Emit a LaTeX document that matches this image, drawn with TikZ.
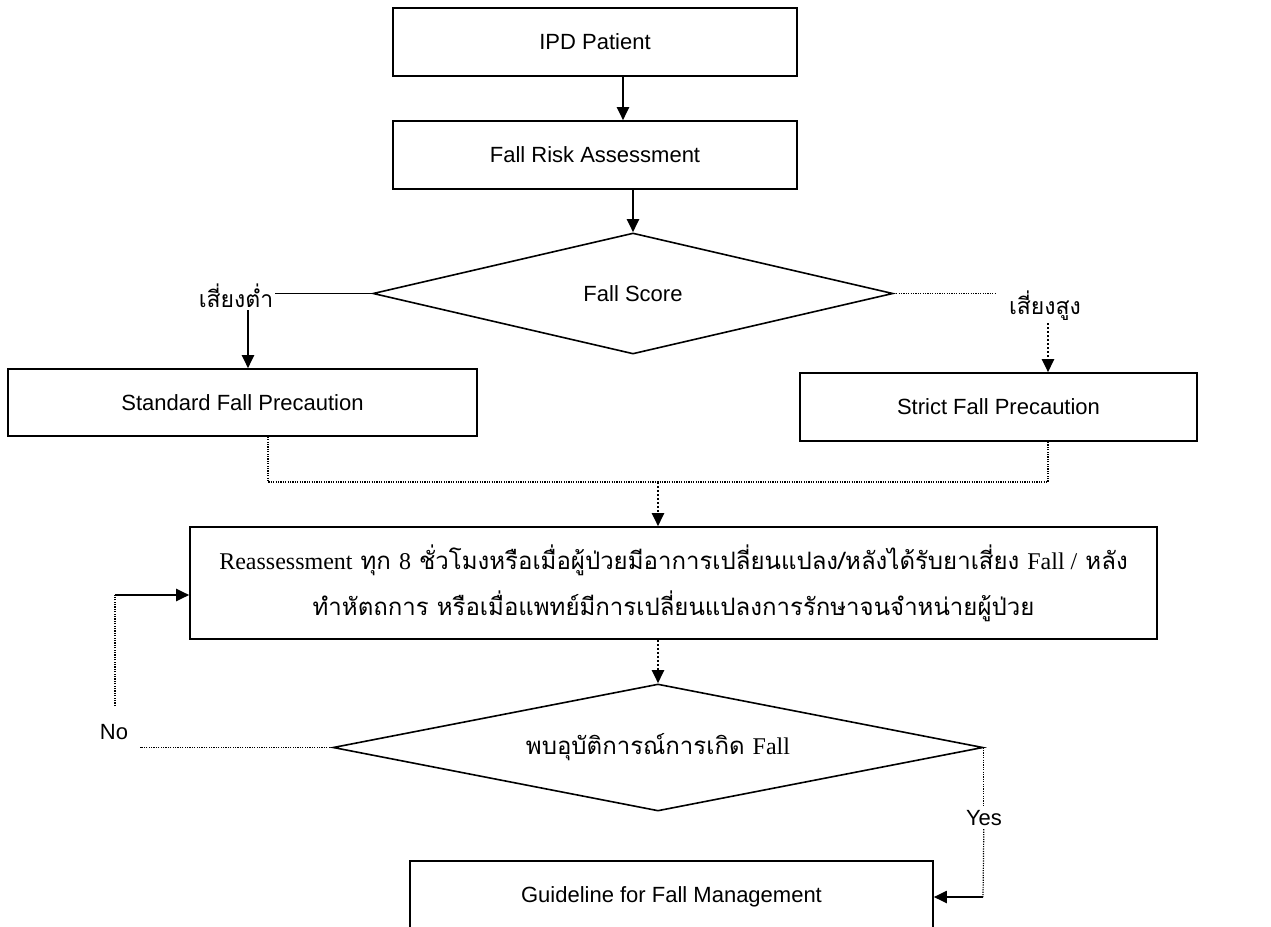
\documentclass[tikz,border=0pt]{standalone}
\usepackage{fontspec}
\setmainfont{Liberation Sans}
\newfontfamily\thaifont[Script=Thai]{Loma}
\newfontfamily\latser{Liberation Serif}
\usetikzlibrary{shapes.geometric, arrows.meta, positioning}

\tikzset{
  %% process box
  pbox/.style={
    rectangle, draw=black, fill=white,
    line width=1.6pt, inner sep=0pt,
    text centered, font=\fontsize{22}{26}\selectfont
  },
  %% decision
  dbox/.style={
    diamond, draw=black, fill=white,
    line width=1.6pt, inner sep=0pt,
    font=\fontsize{22}{26}\selectfont
  },
  %% thai label
  tlbl/.style={font=\thaifont\fontsize{23}{26}\selectfont, inner sep=2pt},
  %% arrows
  arr/.style={-{Triangle[length=13pt,width=12pt]}, line width=2pt},
  darr/.style={-{Triangle[length=13pt,width=12pt]}, line width=2.2pt,
               dash pattern=on 2pt off 2pt},
  sline/.style={line width=1.6pt},
  dline/.style={line width=1.2pt, dash pattern=on 1.2pt off 1.2pt},
}

\begin{document}
\begin{tikzpicture}[x=1pt, y=-1pt,
                    every node/.style={font=\fontsize{22}{26}\selectfont}]
  \path[use as bounding box, clip] (0,0) rectangle (1271,926);

  \coordinate (mrg)    at (658,482);
  \coordinate (noend)  at (140,747.5);
  \coordinate (nobot)  at (115,706);
  \coordinate (noturn) at (115,595);
  \coordinate (yturn)  at (983,897);

  %% Boxes
  \node[pbox, minimum width=404pt, minimum height=68pt] (ipd) at (595,42)
       {IPD Patient};
  \node[pbox, minimum width=404pt, minimum height=68pt] (fra) at (595,155)
       {Fall Risk Assessment};
  \node[dbox, aspect=4.3, minimum width=520pt, minimum height=121pt]
       (score) at (633,293.5) {Fall Score};
  \node[tlbl] (low)  at (236,296) {เสี่ยงต่ำ};
  \node[tlbl] (high) at (1045,306) {เสี่ยงสูง};
  \node[pbox, minimum width=469pt, minimum height=67pt] (std) at (242.5,402.5)
       {Standard Fall Precaution};
  \node[pbox, minimum width=397pt, minimum height=68pt] (strict) at (998.5,407)
       {Strict Fall Precaution};
  \node[pbox, minimum width=967pt, minimum height=112pt, align=center,
        font=\thaifont\fontsize{24}{46}\selectfont] (rea) at (673.5,583)
       {{\latser Reassessment} ทุก {\latser 8} ชั่วโมงหรือเมื่อผู้ป่วยมีอาการเปลี่ยนแปลง/หลังได้รับยาเสี่ยง {\latser Fall /} หลัง\\
        ทำหัตถการ หรือเมื่อแพทย์มีการเปลี่ยนแปลงการรักษาจนจำหน่ายผู้ป่วย};
  \node[dbox, aspect=5.1, minimum width=650pt, minimum height=127pt,
        font=\thaifont\fontsize{24}{30}\selectfont] (fall) at (658,747.5)
       {พบอุบัติการณ์การเกิด {\latser Fall}};
  \node (no)  at (114,732) {No};
  \node (yes) at (984,818) {Yes};
  \node[pbox, minimum width=523pt, minimum height=72pt] (guide) at (671.5,897)
       {Guideline for Fall Management};

  %% Flow
  \draw[arr] ([xshift=28pt]ipd.south) -- ([xshift=28pt]fra.north);
  \draw[arr] (fra.south -| score.north) -- (score.north);
  \draw[sline] (low.east |- score.west) -- (score.west);
  \draw[arr] ([xshift=12pt]low.south) -- ([xshift=12pt]low.south |- std.north);
  \draw[dline] (score.east) -- ([xshift=-10pt]high.west |- score.east);
  \draw[darr] ([xshift=3pt]high.south) -- ([xshift=3pt]high.south |- strict.north);
  \draw[dline] ([xshift=25.5pt]std.south) |- (mrg) -| ([xshift=49.5pt]strict.south);
  \draw[darr] (mrg) -- (mrg |- rea.north);
  \draw[darr] (rea.south -| fall.north) -- (fall.north);

  %% No loop
  \draw[dline] (fall.west) -- (noend);
  \draw[dline] (nobot) -- (noturn);
  \draw[arr] (noturn) -- (noturn -| rea.west);

  %% Yes branch
  \draw[dline] (fall.east) -- (yes.north -| fall.east);
  \draw[dline] (yes.south -| fall.east) -- (yturn);
  \draw[arr] (yturn) -- (guide.east);

\end{tikzpicture}
\end{document}
